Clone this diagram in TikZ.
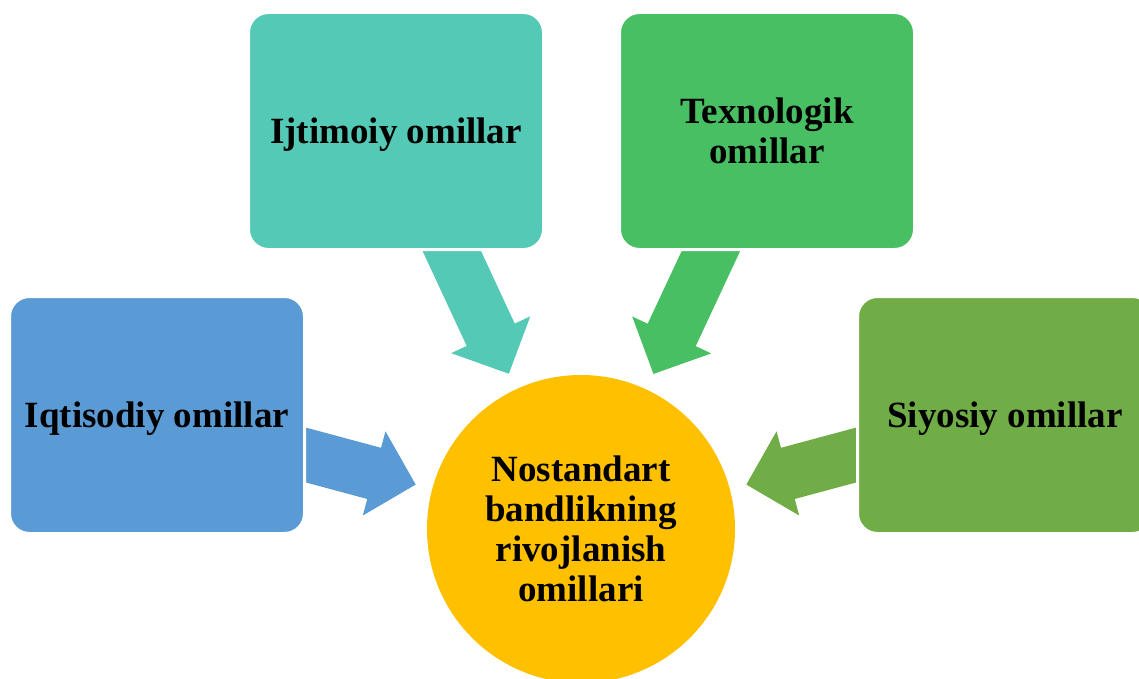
\documentclass[tikz,border=0pt]{standalone}
\usepackage{fontspec}
\setmainfont{Liberation Serif}
\usetikzlibrary{arrows.meta,backgrounds}
\definecolor{iqcol}{HTML}{5B9BD5}
\definecolor{ijcol}{HTML}{53C9B6}
\definecolor{txcol}{HTML}{48BF63}
\definecolor{sicol}{HTML}{70AD47}
\definecolor{hubcol}{HTML}{FFC000}

\begin{document}
\begin{tikzpicture}[x=1pt,y=-1pt,
    every node/.style={font=\bfseries\fontsize{37}{40}\selectfont, align=center},
    factor/.style={rectangle, rounded corners=20pt, minimum width=295pt, minimum height=237pt, draw=white, line width=3pt},
    hub/.style={circle, fill=hubcol, minimum size=308pt, inner sep=0pt},
    feed/.style={line width=53pt, shorten >=58pt,
        postaction={draw, line width=1pt, shorten >=17pt, -{Triangle[width=87pt,length=43pt]}}}]
    \clip (0,0) rectangle (1139,679);
    \node[hub] (hub) at (581,529) {Nostandart\\bandlikning\\rivojlanish\\omillari};
    \node[factor, fill=iqcol, text depth=0pt] (iq) at (157,415) {Iqtisodiy omillar};
    \node[factor, fill=ijcol, text depth=0pt] (ij) at (396,131) {Ijtimoiy omillar};
    \node[factor, fill=txcol] (tx) at (767,131) {Texnologik\\omillar};
    \node[factor, fill=sicol, text depth=0pt] (si) at (1005,415) {Siyosiy omillar};
    \begin{scope}[on background layer]
        \draw[feed, iqcol] (iq.center) -- (hub);
        \draw[feed, ijcol] (ij.center) -- (hub);
        \draw[feed, txcol] (tx.center) -- (hub);
        \draw[feed, sicol] (si.center) -- (hub);
    \end{scope}
\end{tikzpicture}
\end{document}
